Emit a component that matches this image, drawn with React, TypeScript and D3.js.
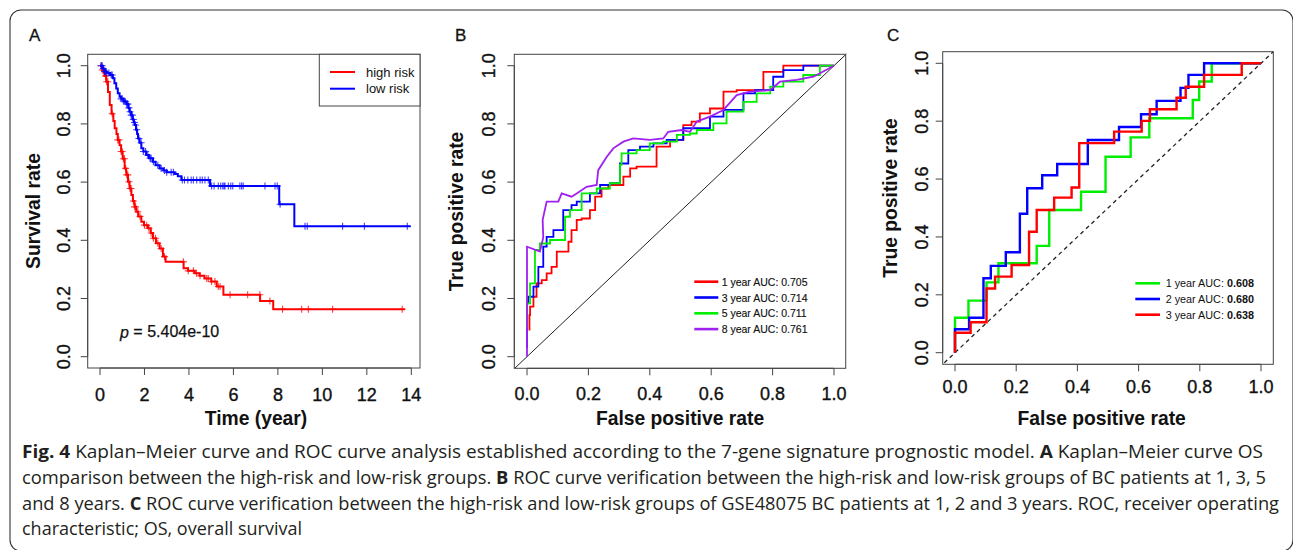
import React from "react";
import * as d3 from "d3";

const W = 1293;
const H = 550;
const FONT = "'Liberation Sans', Arial, Helvetica, sans-serif";
const CAPTION_FONT = "'Open Sans', 'Noto Sans', sans-serif";

// ---------- Panel A: Kaplan–Meier survival ----------
const kmTicksX = [0, 2, 4, 6, 8, 10, 12, 14];
const unitTicks = [0, 0.2, 0.4, 0.6, 0.8, 1.0];

const highRiskTimes = [0, 0.1, 0.2, 0.28, 0.36, 0.44, 0.52, 0.6, 0.66, 0.74, 0.8, 0.88, 0.95, 1.02, 1.11, 1.18, 1.26, 1.33, 1.41, 1.48, 1.55, 1.63, 1.72, 1.86, 1.98, 2.16, 2.28, 2.38, 2.52, 2.68, 2.83, 2.95, 3.76, 3.96, 4.26, 4.48, 4.7, 5.0, 5.25, 5.55, 7.2, 7.79];
const highRiskSurv = [1.0, 0.985, 0.965, 0.945, 0.91, 0.865, 0.835, 0.81, 0.785, 0.765, 0.745, 0.727, 0.705, 0.68, 0.647, 0.625, 0.601, 0.578, 0.556, 0.535, 0.515, 0.498, 0.482, 0.464, 0.452, 0.441, 0.425, 0.407, 0.39, 0.372, 0.344, 0.326, 0.304, 0.295, 0.287, 0.278, 0.269, 0.258, 0.241, 0.213, 0.191, 0.163];
const highRiskEnd = 13.71;
const highRiskCensor = [0.05, 0.1, 0.15, 0.25, 0.3, 0.35, 0.55, 0.8, 0.85, 0.95, 1.0, 1.05, 1.1, 1.15, 1.2, 1.25, 1.3, 1.35, 1.4, 1.5, 1.55, 1.6, 1.7, 1.8, 2.0, 2.1, 2.2, 2.3, 2.4, 2.5, 2.6, 2.75, 2.9, 3.75, 3.97, 4.2, 4.34, 4.5, 4.8, 4.87, 5.02, 5.17, 5.32, 5.4, 5.85, 6.64, 7.19, 7.64, 8.21, 9.07, 9.37, 10.46, 13.59];

const lowRiskTimes = [0, 0.12, 0.2, 0.3, 0.45, 0.58, 0.65, 0.73, 0.8, 0.88, 0.95, 1.05, 1.11, 1.2, 1.28, 1.33, 1.4, 1.47, 1.52, 1.56, 1.62, 1.67, 1.71, 1.78, 1.86, 1.95, 2.08, 2.2, 2.38, 2.5, 2.68, 2.85, 3.0, 3.36, 3.5, 3.66, 4.95, 8.06, 8.74];
const lowRiskSurv = [1.0, 0.99, 0.98, 0.975, 0.968, 0.957, 0.94, 0.922, 0.905, 0.893, 0.886, 0.879, 0.876, 0.868, 0.855, 0.842, 0.83, 0.815, 0.805, 0.796, 0.78, 0.765, 0.75, 0.735, 0.716, 0.705, 0.693, 0.682, 0.67, 0.658, 0.647, 0.64, 0.634, 0.628, 0.62, 0.607, 0.587, 0.524, 0.448];
const lowRiskEnd = 13.97;
const lowRiskCensor = [0.05, 0.1, 0.15, 0.2, 0.25, 0.3, 0.4, 0.5, 0.55, 0.95, 1.0, 1.05, 1.1, 1.15, 1.2, 1.25, 1.3, 1.35, 1.4, 1.45, 1.5, 1.55, 1.6, 1.65, 1.75, 1.85, 1.95, 2.05, 2.15, 2.25, 2.3, 2.4, 2.6, 2.75, 2.9, 3.0, 3.2, 3.3, 3.7, 3.8, 3.95, 4.1, 4.2, 4.35, 4.5, 4.6, 4.72, 4.87, 5.02, 5.13, 5.32, 5.43, 5.52, 5.58, 5.62, 5.77, 5.88, 5.97, 6.29, 6.37, 6.44, 7.42, 7.87, 7.97, 8.1, 9.22, 9.32, 10.91, 11.89, 13.82];

const kmLegend = ["high risk", "low risk"];
const kmColors = ["#ff0000", "#0000ff"];
const pValueText = " = 5.404e-10";

// ---------- Panel B: time-dependent ROC (1, 3, 5, 8 years) ----------
const rocB1Fpr = [0.008, 0.01, 0.021, 0.031, 0.048, 0.064, 0.08, 0.097, 0.135, 0.145, 0.162, 0.178, 0.205, 0.222, 0.243, 0.265, 0.314, 0.336, 0.357, 0.422, 0.422, 0.466, 0.509, 0.536, 0.563, 0.596, 0.64, 0.683, 0.77, 0.77, 0.835, 0.878, 1.0];
const rocB1Tpr = [0.09, 0.143, 0.172, 0.206, 0.252, 0.263, 0.286, 0.309, 0.361, 0.395, 0.435, 0.47, 0.475, 0.504, 0.55, 0.578, 0.59, 0.619, 0.647, 0.653, 0.71, 0.722, 0.745, 0.796, 0.808, 0.836, 0.853, 0.911, 0.916, 0.962, 0.979, 1.0, 1.0];
const rocB3Fpr = [0, 0, 0.004, 0.021, 0.037, 0.053, 0.064, 0.086, 0.118, 0.145, 0.162, 0.205, 0.238, 0.27, 0.303, 0.33, 0.368, 0.412, 0.455, 0.509, 0.536, 0.596, 0.64, 0.705, 0.743, 0.802, 0.835, 0.9, 0.965, 1.0];
const rocB3Tpr = [0.03, 0.069, 0.183, 0.206, 0.241, 0.309, 0.378, 0.412, 0.435, 0.504, 0.521, 0.533, 0.561, 0.59, 0.596, 0.664, 0.71, 0.722, 0.733, 0.745, 0.785, 0.785, 0.825, 0.848, 0.905, 0.916, 0.962, 0.985, 1.0, 1.0];
const rocB5Fpr = [0, 0, 0.01, 0.026, 0.042, 0.075, 0.124, 0.14, 0.178, 0.227, 0.27, 0.303, 0.308, 0.357, 0.4, 0.444, 0.488, 0.531, 0.553, 0.607, 0.65, 0.705, 0.748, 0.792, 0.835, 0.9, 0.954, 1.0];
const rocB5Tpr = [0.1, 0.126, 0.183, 0.252, 0.367, 0.389, 0.401, 0.481, 0.504, 0.561, 0.578, 0.596, 0.659, 0.699, 0.71, 0.733, 0.739, 0.762, 0.767, 0.779, 0.802, 0.842, 0.876, 0.905, 0.928, 0.945, 0.968, 1.0];
const rocB8Fpr = [0, 0, 0, 0.042, 0.053, 0.051, 0.064, 0.102, 0.113, 0.145, 0.162, 0.194, 0.227, 0.232, 0.26, 0.281, 0.314, 0.346, 0.4, 0.444, 0.46, 0.504, 0.531, 0.553, 0.596, 0.64, 0.683, 0.726, 0.792, 0.824, 0.878, 0.933, 1.0];
const rocB8Tpr = [0, 0.2, 0.378, 0.361, 0.41, 0.47, 0.533, 0.533, 0.561, 0.55, 0.561, 0.584, 0.59, 0.641, 0.687, 0.716, 0.739, 0.75, 0.745, 0.75, 0.773, 0.779, 0.773, 0.808, 0.825, 0.848, 0.899, 0.911, 0.916, 0.945, 0.951, 0.962, 1.0];
const rocBLabels = ["1 year AUC: 0.705", "3 year AUC: 0.714", "5 year AUC: 0.711", "8 year AUC: 0.761"];
const rocBColors = ["#ff0000", "#0000ff", "#00ee00", "#a020f0"];

// ---------- Panel C: validation ROC (1, 2, 3 years) ----------
const rocC1Fpr = [0, 0, 0.044, 0.103, 0.142, 0.267, 0.308, 0.412, 0.492, 0.574, 0.635, 0.777, 0.798, 0.839, 1.0];
const rocC1Tpr = [0, 0.121, 0.18, 0.243, 0.309, 0.369, 0.493, 0.556, 0.677, 0.744, 0.81, 0.873, 0.937, 1.0, 1.0];
const rocC2Fpr = [0, 0, 0.046, 0.093, 0.117, 0.166, 0.212, 0.236, 0.285, 0.334, 0.434, 0.536, 0.608, 0.659, 0.737, 0.763, 0.814, 1.0];
const rocC2Tpr = [0, 0.081, 0.121, 0.257, 0.3, 0.347, 0.48, 0.568, 0.613, 0.652, 0.735, 0.78, 0.824, 0.87, 0.915, 0.96, 1.0, 1.0];
const rocC3Fpr = [0, 0, 0.051, 0.103, 0.131, 0.185, 0.242, 0.267, 0.324, 0.381, 0.406, 0.52, 0.61, 0.637, 0.724, 0.754, 0.814, 0.937, 1.0];
const rocC3Tpr = [0, 0.069, 0.105, 0.222, 0.263, 0.303, 0.418, 0.493, 0.536, 0.571, 0.724, 0.764, 0.801, 0.841, 0.881, 0.919, 0.96, 1.0, 1.0];
const rocCPrefix = ["1 year AUC: ", "2 year AUC: ", "3 year AUC: "];
const rocCValues = ["0.608", "0.680", "0.638"];
const rocCColors = ["#00ee00", "#0000ff", "#ff0000"];

// ---------- Caption ----------
const captionLines: { parts: [string, boolean][]; x0: number; x1: number }[] = [
  {
    parts: [["Fig. 4", true], ["  Kaplan–Meier curve and ROC curve analysis established according to the 7-gene signature prognostic model. ", false], ["A", true], [" Kaplan–Meier curve OS", false]],
    x0: 22, x1: 1263,
  },
  {
    parts: [["comparison between the high-risk and low-risk groups. ", false], ["B", true], [" ROC curve verification between the high-risk and low-risk groups of BC patients at 1, 3, 5", false]],
    x0: 22, x1: 1266,
  },
  {
    parts: [["and 8 years. ", false], ["C", true], [" ROC curve verification between the high-risk and low-risk groups of GSE48075 BC patients at 1, 2 and 3 years. ROC, receiver operating", false]],
    x0: 22, x1: 1279,
  },
  {
    parts: [["characteristic; OS, overall survival", false]],
    x0: 22, x1: 302,
  },
];
const captionBaselines = [458, 484, 509.5, 535];

const fmt1 = d3.format(".1f");

function survAt(times: number[], surv: number[], t: number) {
  let s = surv[0];
  for (let i = 0; i < times.length; i++) if (times[i] <= t) s = surv[i];
  return s;
}

type Box = { x0: number; x1: number; y0: number; y1: number };

// heavier text stroke, as in the R device output
const tickText = { fontSize: 18, fill: "#111", stroke: "#111", strokeWidth: 0.35 };
const titleText = { fontSize: 19.3, fontWeight: "bold" as const, fill: "#111" };

function Frame({ b }: { b: Box }) {
  return <rect x={b.x0} y={b.y0} width={b.x1 - b.x0} height={b.y1 - b.y0} fill="none" stroke="#444" strokeWidth={1} />;
}

function XAxis({ scale, ticks, y, labelY, fmt }: { scale: any; ticks: number[]; y: number; labelY: number; fmt: (v: number) => string }) {
  return (
    <g>
      <line x1={scale(ticks[0])} x2={scale(ticks[ticks.length - 1])} y1={y} y2={y} stroke="#444" />
      {ticks.map((t) => (
        <g key={t}>
          <line x1={scale(t)} x2={scale(t)} y1={y} y2={y + 7} stroke="#444" />
          <text x={scale(t)} y={labelY} textAnchor="middle" dominantBaseline="central" {...tickText}>
            {fmt(t)}
          </text>
        </g>
      ))}
    </g>
  );
}

function YAxis({ scale, ticks, x, labelX }: { scale: any; ticks: number[]; x: number; labelX: number }) {
  return (
    <g>
      <line x1={x} x2={x} y1={scale(ticks[0])} y2={scale(ticks[ticks.length - 1])} stroke="#444" />
      {ticks.map((t) => (
        <g key={t}>
          <line x1={x} x2={x - 7} y1={scale(t)} y2={scale(t)} stroke="#444" />
          <text transform={`translate(${labelX},${scale(t)}) rotate(-90)`} textAnchor="middle" dominantBaseline="central" {...tickText}>
            {fmt1(t)}
          </text>
        </g>
      ))}
    </g>
  );
}

function RotLabel({ x, y, text }: { x: number; y: number; text: string }) {
  return (
    <text transform={`translate(${x},${y}) rotate(-90)`} textAnchor="middle" dominantBaseline="central" {...titleText}>
      {text}
    </text>
  );
}

function PanelLetter({ x, text }: { x: number; text: string }) {
  return (
    <text x={x} y={35} fontSize={17} dominantBaseline="central" fill="#111" stroke="#111" strokeWidth={0.3}>
      {text}
    </text>
  );
}

function PanelA() {
  const b: Box = { x0: 87.7, x1: 420, y0: 54.3, y1: 368 };
  const x = d3.scaleLinear().domain([0, 14]).range([100, 411.3]);
  const y = d3.scaleLinear().domain([0, 1]).range([356.7, 65.7]);
  const line = d3
    .line<[number, number]>()
    .x((d) => x(d[0]))
    .y((d) => y(d[1]))
    .curve(d3.curveStepAfter);
  const groups = [
    { times: highRiskTimes, surv: highRiskSurv, end: highRiskEnd, censor: highRiskCensor, color: kmColors[0] },
    { times: lowRiskTimes, surv: lowRiskSurv, end: lowRiskEnd, censor: lowRiskCensor, color: kmColors[1] },
  ];
  return (
    <g>
      <PanelLetter x={29} text="A" />
      {groups.map((g, gi) => {
        const pts: [number, number][] = g.times.map((t, i) => [t, g.surv[i]] as [number, number]);
        pts.push([g.end, g.surv[g.surv.length - 1]]);
        const marks = g.censor
          .map((t) => {
            const cx = x(t);
            const cy = y(survAt(g.times, g.surv, t));
            return `M${cx - 3.5},${cy}h7M${cx},${cy - 3.5}v7`;
          })
          .join("");
        return (
          <g key={gi}>
            <path d={line(pts) || ""} fill="none" stroke={g.color} strokeWidth={2} />
            <path d={marks} fill="none" stroke={g.color} strokeWidth={1.1} strokeOpacity={0.75} />
          </g>
        );
      })}
      <Frame b={b} />
      <XAxis scale={x} ticks={kmTicksX} y={b.y1} labelY={395} fmt={(v) => String(v)} />
      <YAxis scale={y} ticks={unitTicks} x={b.x0} labelX={64} />
      <RotLabel x={33} y={211} text="Survival rate" />
      <text x={256} y={418} textAnchor="middle" dominantBaseline="central" {...titleText}>Time (year)</text>
      <rect x={319.3} y={b.y0} width={b.x1 - 319.3} height={106 - b.y0} fill="#fff" stroke="#444" />
      {kmLegend.map((l, i) => (
        <g key={l}>
          <line x1={330} x2={355} y1={72 + i * 16.7} y2={72 + i * 16.7} stroke={kmColors[i]} strokeWidth={2} />
          <text x={366} y={72 + i * 16.7} dominantBaseline="central" fontSize={13} fill="#111">{l}</text>
        </g>
      ))}
      <text x={120} y={331.7} dominantBaseline="central" fontSize={16} fill="#111" stroke="#111" strokeWidth={0.25}>
        <tspan fontStyle="italic">p</tspan>
        {pValueText}
      </text>
    </g>
  );
}

function PanelB() {
  const b: Box = { x0: 514.3, x1: 845.7, y0: 54.3, y1: 368.3 };
  const x = d3.scaleLinear().domain([0, 1]).range([527, 834]);
  const y = d3.scaleLinear().domain([0, 1]).range([356.7, 65.7]);
  const mk = (curve: d3.CurveFactory) =>
    d3
      .line<[number, number]>()
      .x((d) => x(d[0]))
      .y((d) => y(d[1]))
      .curve(curve);
  const series = [
    { f: rocB1Fpr, t: rocB1Tpr, curve: d3.curveStepBefore },
    { f: rocB3Fpr, t: rocB3Tpr, curve: d3.curveStepBefore },
    { f: rocB5Fpr, t: rocB5Tpr, curve: d3.curveStepBefore },
    { f: rocB8Fpr, t: rocB8Tpr, curve: d3.curveLinear },
  ];
  const ext = [-0.04, 1.04];
  return (
    <g>
      <PanelLetter x={455} text="B" />
      <line x1={x(ext[0])} y1={y(ext[0])} x2={x(ext[1])} y2={y(ext[1])} stroke="#222" strokeWidth={1} />
      {series.map((s, i) => (
        <path key={i} d={mk(s.curve)(s.f.map((v, k) => [v, s.t[k]] as [number, number])) || ""} fill="none" stroke={rocBColors[i]} strokeWidth={1.8} />
      ))}
      <Frame b={b} />
      <XAxis scale={x} ticks={unitTicks} y={b.y1} labelY={394.3} fmt={fmt1} />
      <YAxis scale={y} ticks={unitTicks} x={b.x0} labelX={488.5} />
      <RotLabel x={456.7} y={211.5} text="True positive rate" />
      <text x={680} y={418.3} textAnchor="middle" dominantBaseline="central" {...titleText}>False positive rate</text>
      {rocBLabels.map((l, i) => {
        const ly = 281.7 + i * 15.8;
        return (
          <g key={l}>
            <line x1={694.3} x2={718.3} y1={ly} y2={ly} stroke={rocBColors[i]} strokeWidth={2.6} />
            <text x={721.7} y={ly} dominantBaseline="central" fontSize={10.5} fill="#111" stroke="#111" strokeWidth={0.15}>{l}</text>
          </g>
        );
      })}
    </g>
  );
}

function PanelC() {
  const b: Box = { x0: 942.7, x1: 1273.3, y0: 51.7, y1: 364.3 };
  const x = d3.scaleLinear().domain([0, 1]).range([955, 1261]);
  const y = d3.scaleLinear().domain([0, 1]).range([352.7, 63.3]);
  const line = d3
    .line<[number, number]>()
    .x((d) => x(d[0]))
    .y((d) => y(d[1]))
    .curve(d3.curveStepAfter);
  const series = [
    { f: rocC1Fpr, t: rocC1Tpr },
    { f: rocC2Fpr, t: rocC2Tpr },
    { f: rocC3Fpr, t: rocC3Tpr },
  ];
  const ext = [-0.035, 1.04];
  return (
    <g>
      <PanelLetter x={887} text="C" />
      <line x1={x(ext[0])} y1={y(ext[0])} x2={x(ext[1])} y2={y(ext[1])} stroke="#222" strokeWidth={1.3} strokeDasharray="4 3.5" />
      {series.map((s, i) => (
        <path key={i} d={line(s.f.map((v, k) => [v, s.t[k]] as [number, number])) || ""} fill="none" stroke={rocCColors[i]} strokeWidth={2.4} />
      ))}
      <Frame b={b} />
      <XAxis scale={x} ticks={unitTicks} y={b.y1} labelY={386.7} fmt={fmt1} />
      <YAxis scale={y} ticks={unitTicks} x={b.x0} labelX={922.3} />
      <RotLabel x={890} y={198} text="True positive rate" />
      <text x={1101.7} y={418.3} textAnchor="middle" dominantBaseline="central" {...titleText}>False positive rate</text>
      {rocCPrefix.map((p, i) => {
        const ly = 283.3 + i * 15.7;
        return (
          <g key={p}>
            <line x1={1135.3} x2={1160} y1={ly} y2={ly} stroke={rocCColors[i]} strokeWidth={2.6} />
            <text x={1165.7} y={ly} dominantBaseline="central" fontSize={10.8} fill="#111">
              {p}
              <tspan fontWeight="bold">{rocCValues[i]}</tspan>
            </text>
          </g>
        );
      })}
    </g>
  );
}

function Caption() {
  return (
    <g fontFamily={CAPTION_FONT} fontSize={17.5} fill="#231f20">
      {captionLines.map((ln, i) => (
        <text key={i} x={ln.x0} y={captionBaselines[i]} textLength={ln.x1 - ln.x0} lengthAdjust="spacingAndGlyphs">
          {ln.parts.map(([s, bold], k) => (
            <tspan key={k} fontWeight={bold ? "bold" : "normal"}>{s}</tspan>
          ))}
        </text>
      ))}
    </g>
  );
}

export default function App() {
  return (
    <div style={{ position: "absolute", left: 0, top: 0 }}>
      <svg width={W} height={H} viewBox={`0 0 ${W} ${H}`} style={{ display: "block", background: "#fff" }} fontFamily={FONT}>
        <rect x={0} y={0} width={W} height={H} fill="#fff" />
        <rect x={10} y={10} width={1283} height={541} rx={11} fill="none" stroke="#333" strokeWidth={1.1} />
        <PanelA />
        <PanelB />
        <PanelC />
        <Caption />
      </svg>
    </div>
  );
}
